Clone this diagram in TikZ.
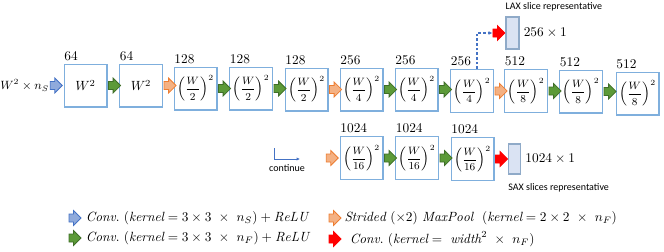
\documentclass[tikz,border=0pt]{standalone}
\usepackage{fontspec}
\newfontfamily\calibri{Carlito}
\usetikzlibrary{positioning,shapes.arrows,arrows.meta}

\definecolor{boxblue}{RGB}{127,175,221}
\definecolor{convblue}{RGB}{143,170,220}
\definecolor{convblueline}{RGB}{68,114,196}
\definecolor{convgreen}{RGB}{92,154,56}
\definecolor{convgreenline}{RGB}{63,110,40}
\definecolor{poolorange}{RGB}{244,177,131}
\definecolor{poolorangeline}{RGB}{237,125,49}
\definecolor{vecfill}{RGB}{218,227,243}
\definecolor{vecline}{RGB}{143,170,200}

\newcommand{\wfrac}[1]{{\fontsize{8.5}{10}\selectfont$\displaystyle\left(\frac{W}{#1}\right)^{2}$}}

\tikzset{
	featbox/.style={draw=boxblue, line width=1pt, fill=white, minimum width=32pt, minimum height=32pt, inner sep=0pt},
	chlabel/.style={anchor=south west, inner sep=0.5pt, yshift=1.5pt},
	blockarr/.style={single arrow, line width=0.6pt, minimum height=9pt, minimum width=10.5pt, inner xsep=0pt, inner ysep=2.7pt, single arrow head extend=2.6pt},
	barr/.style={blockarr, fill=convblue, draw=convblueline},
	garr/.style={blockarr, fill=convgreen, draw=convgreenline},
	oarr/.style={blockarr, fill=poolorange, draw=poolorangeline},
	rarr/.style={blockarr, fill=red, draw=red},
	vecbox/.style={draw=vecline, line width=0.8pt, fill=vecfill, inner sep=0pt},
	smalltext/.style={font=\calibri\fontsize{7.5}{9}\selectfont, inner sep=0pt},
	legtext/.style={anchor=west, inner sep=0pt},
}

\begin{document}
\begin{tikzpicture}[x=0.75pt, y=-0.75pt]
	\useasboundingbox (0,0) rectangle (664,251);
	
	% Obere Reihe der Feature-Maps
	\foreach \n/\cx/\cy/\ch/\d in {1/85.5/85.5/64/0, 2/141/85.5/64/0, 3/195.5/88.5/128/2, 4/251/88.5/128/2, 5/306.5/89.5/128/2, 6/361.5/89.5/256/4, 7/416.5/89.5/256/4, 8/472/91/256/4, 9/526/91/512/8, 10/581/91.5/512/8, 11/637.5/93.5/512/8}{
		\node[featbox] (b\n) at (\cx,\cy) {\ifnum\d=0 $W^{2}$\else\wfrac{\d}\fi};
		\node[chlabel] (t\n) at (b\n.north west) {\ch};
	}
	
	% Eingang
	\node[barr, left=0.5pt of b1] (a0) {};
	\node[anchor=east, inner sep=0.5pt, font=\small] (inp) at (a0.west) {$W^{2}\times n_{S}$};
	
	% Pfeile zwischen den Blöcken
	\foreach \a/\b/\s in {1/2/garr, 2/3/oarr, 3/4/garr, 4/5/garr, 5/6/oarr, 6/7/garr, 7/8/garr, 8/9/oarr, 9/10/garr, 10/11/garr}
		\node[\s, right=0.5pt of b\a] (a\a) {};
	
	% LAX-Ausgang
	\node[vecbox, minimum width=9.75pt, minimum height=24pt] (lax) at (512.5,33) {};
	\node[rarr, left=0pt of lax] (r8) {};
	\node[right=3pt of lax, inner sep=0pt] (laxdim) {$256\times 1$};
	\node[smalltext, anchor=base west] (laxtxt) at ([yshift=5pt]lax.north west) {LAX slice representative};
	\draw[convblueline, line width=0.9pt, dash pattern=on 2pt off 1.5pt, -{Latex[length=3pt,width=3pt]}]
	([xshift=3.75pt]b8.north) |- (r8.west);
	
	% Untere Reihe
	\foreach \n/\cx/\cy in {1/361.5/158, 2/417/158, 3/472.5/159}{
		\node[featbox] (c\n) at (\cx,\cy) {\wfrac{16}};
		\node[chlabel] (u\n) at (c\n.north west) {1024};
	}
	\node[oarr, left=0.5pt of c1] (p1) {};
	\node[garr, right=0.5pt of c1] (p2) {};
	\node[garr, right=0.5pt of c2] (p3) {};
	\node[rarr, right=0.5pt of c3] (p4) {};
	
	% SAX-Ausgang
	\node[vecbox, minimum width=9pt, minimum height=22.5pt, right=0pt of p4] (sax) {};
	\node[right=3pt of sax, inner sep=0pt] (saxdim) {$1024\times 1$};
	\node[smalltext, anchor=north west] (saxtxt) at ([yshift=-6.5pt]sax.south west) {SAX slices representative};
	
	% Fortsetzung
	\coordinate (k0) at (274,148);
	\coordinate (k1) at (300,159);
	\draw[convblueline, line width=0.5pt, -{Latex[length=2.5pt,width=2.5pt]}] (k0) |- (k1);
	\node[smalltext] (cont) at (287,168) {continue};
	
	% Legende
	\node[barr] (l1) at (73,218) {};
	\node[legtext, right=3pt of l1] (lt1) {$\mathit{Conv.}\ (\mathit{kernel}=3\times 3\ \times\ n_{S})+\mathit{ReLU}$};
	\node[garr] (l2) at (73,238) {};
	\node[legtext, right=3pt of l2] (lt2) {$\mathit{Conv.}\ (\mathit{kernel}=3\times 3\ \times\ n_{F})+\mathit{ReLU}$};
	\node[oarr] (l3) at (333,218) {};
	\node[legtext, right=2pt of l3] (lt3) {$\mathit{Strided}\ (\times 2)\ \mathit{MaxPool}\ \ (\mathit{kernel}=2\times 2\ \times\ n_{F})$};
	\node[rarr] (l4) at (333,239) {};
	\node[legtext, right=6pt of l4] (lt4) {$\mathit{Conv.}\ (\mathit{kernel}=\ \mathit{width}^{2}\ \times\ n_{F})$};
	
\end{tikzpicture}
\end{document}
